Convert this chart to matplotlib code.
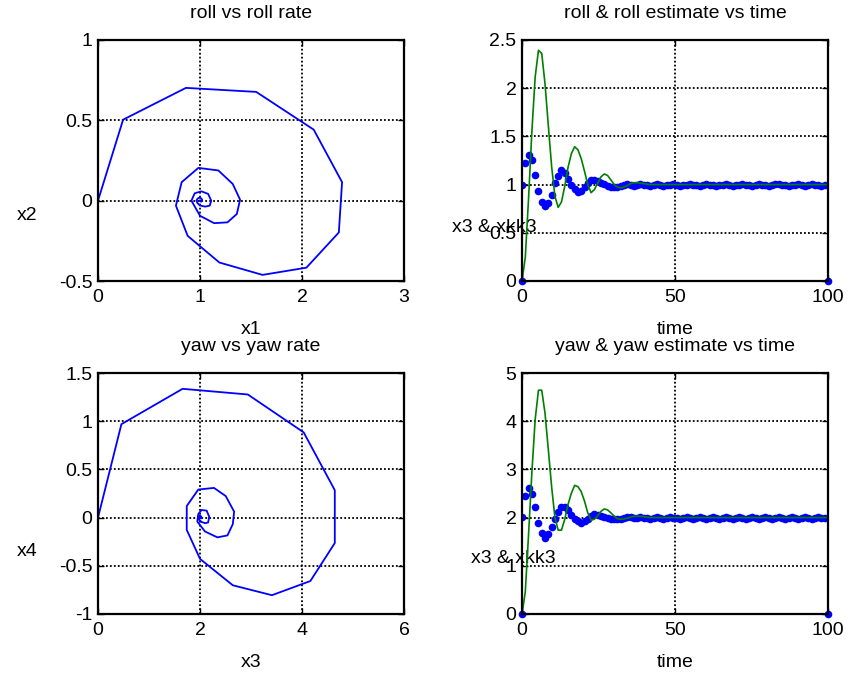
import numpy as np
import matplotlib
matplotlib.use("Agg")
import matplotlib.pyplot as plt

plt.rcParams['font.family'] = ['Liberation Sans', 'DejaVu Sans']
plt.rcParams['font.size'] = 14

# time axis, 94 samples from 0 to 100
time = np.linspace(0, 100, 94)

# roll state (x1) and roll rate (x2)
roll = [0.0, 0.246, 0.862, 1.551, 2.115, 2.393, 2.361, 2.043, 1.613, 1.190,
        0.879, 0.764, 0.820, 0.984, 1.180, 1.321, 1.393, 1.361, 1.269, 1.138,
        1.000, 0.916, 0.948, 1.014, 1.080, 1.110, 1.095, 1.050, 1.000, 0.975,
        0.965, 0.975, 0.990, 1.010, 1.020, 1.020, 1.015, 1.010, 1.005, 1.000,
        1.0, 1.0, 1.0, 1.0, 1.0, 1.0, 1.0, 1.0, 1.0, 1.0,
        1.0, 1.0, 1.0, 1.0, 1.0, 1.0, 1.0, 1.0, 1.0, 1.0,
        1.0, 1.0, 1.0, 1.0, 1.0, 1.0, 1.0, 1.0, 1.0, 1.0,
        1.0, 1.0, 1.0, 1.0, 1.0, 1.0, 1.0, 1.0, 1.0, 1.0,
        1.0, 1.0, 1.0, 1.0, 1.0, 1.0, 1.0, 1.0, 1.0, 1.0,
        1.0, 1.0, 1.0, 1.0]
roll_rate = [0.0, 0.504, 0.702, 0.677, 0.442, 0.115, -0.198, -0.417, -0.462, -0.385,
             -0.219, -0.031, 0.115, 0.204, 0.188, 0.104, 0.006, -0.083, -0.135, -0.140,
             -0.094, 0.000, 0.046, 0.058, 0.042, 0.000, -0.031, -0.037, -0.030, -0.015,
             0.000, 0.012, 0.018, 0.015, 0.008, 0.000, -0.005, -0.006, -0.005, -0.002,
             0.0, 0.0, 0.0, 0.0, 0.0, 0.0, 0.0, 0.0, 0.0, 0.0,
             0.0, 0.0, 0.0, 0.0, 0.0, 0.0, 0.0, 0.0, 0.0, 0.0,
             0.0, 0.0, 0.0, 0.0, 0.0, 0.0, 0.0, 0.0, 0.0, 0.0,
             0.0, 0.0, 0.0, 0.0, 0.0, 0.0, 0.0, 0.0, 0.0, 0.0,
             0.0, 0.0, 0.0, 0.0, 0.0, 0.0, 0.0, 0.0, 0.0, 0.0,
             0.0, 0.0, 0.0, 0.0]
roll_est = [1.00, 1.22, 1.31, 1.25, 1.10, 0.93, 0.82, 0.78, 0.81, 0.89,
            1.02, 1.09, 1.15, 1.12, 1.06, 1.00, 0.95, 0.92, 0.93, 0.97,
            1.02, 1.05, 1.05, 1.04, 1.02, 1.01, 0.99, 0.98, 0.98, 0.98,
            0.99, 1.00, 1.01, 1.00, 0.99, 1.00, 1.01, 1.00, 1.00, 0.99,
            1.00, 1.01, 1.00, 0.99, 1.00, 1.00, 1.01, 1.00, 0.99, 1.00,
            1.00, 1.01, 1.00, 1.00, 0.99, 1.00, 1.01, 1.00, 1.00, 0.99,
            1.00, 1.00, 1.01, 1.00, 0.99, 1.00, 1.00, 1.01, 1.00, 1.00,
            0.99, 1.00, 1.01, 1.00, 1.00, 0.99, 1.00, 1.01, 1.01, 1.00,
            1.00, 0.99, 1.00, 1.00, 1.01, 1.00, 0.99, 1.00, 1.01, 1.00,
            1.00, 0.99, 1.00, 1.00]

# yaw state (x3) and yaw rate (x4)
yaw = [0.0, 0.459, 1.659, 2.938, 4.033, 4.643, 4.643, 4.164, 3.410, 2.643,
       2.000, 1.740, 1.740, 1.967, 2.275, 2.505, 2.669, 2.643, 2.538, 2.341,
       2.098, 1.947, 1.967, 2.033, 2.130, 2.180, 2.160, 2.100, 2.030, 1.980,
       1.965, 1.970, 1.990, 2.010, 2.025, 2.030, 2.025, 2.020, 2.010, 2.000,
       2.0, 2.0, 2.0, 2.0, 2.0, 2.0, 2.0, 2.0, 2.0, 2.0,
       2.0, 2.0, 2.0, 2.0, 2.0, 2.0, 2.0, 2.0, 2.0, 2.0,
       2.0, 2.0, 2.0, 2.0, 2.0, 2.0, 2.0, 2.0, 2.0, 2.0,
       2.0, 2.0, 2.0, 2.0, 2.0, 2.0, 2.0, 2.0, 2.0, 2.0,
       2.0, 2.0, 2.0, 2.0, 2.0, 2.0, 2.0, 2.0, 2.0, 2.0,
       2.0, 2.0, 2.0, 2.0]
yaw_rate = [0.0, 0.969, 1.336, 1.277, 0.884, 0.284, -0.264, -0.658, -0.805, -0.702,
            -0.428, -0.127, 0.120, 0.291, 0.308, 0.223, 0.062, -0.068, -0.185, -0.205,
            -0.144, -0.041, 0.038, 0.079, 0.072, 0.010, -0.050, -0.058, -0.045, -0.020,
            0.000, 0.015, 0.020, 0.018, 0.010, 0.000, -0.006, -0.008, -0.006, -0.003,
            0.0, 0.0, 0.0, 0.0, 0.0, 0.0, 0.0, 0.0, 0.0, 0.0,
            0.0, 0.0, 0.0, 0.0, 0.0, 0.0, 0.0, 0.0, 0.0, 0.0,
            0.0, 0.0, 0.0, 0.0, 0.0, 0.0, 0.0, 0.0, 0.0, 0.0,
            0.0, 0.0, 0.0, 0.0, 0.0, 0.0, 0.0, 0.0, 0.0, 0.0,
            0.0, 0.0, 0.0, 0.0, 0.0, 0.0, 0.0, 0.0, 0.0, 0.0,
            0.0, 0.0, 0.0, 0.0]
yaw_est = [2.02, 2.45, 2.62, 2.50, 2.22, 1.88, 1.68, 1.58, 1.65, 1.80,
           1.97, 2.12, 2.23, 2.22, 2.15, 2.06, 1.98, 1.92, 1.88, 1.92,
           1.98, 2.04, 2.07, 2.06, 2.04, 2.02, 2.00, 1.98, 1.97, 1.97,
           1.98, 2.00, 2.02, 2.01, 1.99, 2.00, 2.02, 2.00, 1.99, 1.98,
           2.00, 2.01, 2.00, 1.98, 2.00, 2.01, 2.00, 1.99, 1.98, 2.00,
           2.01, 2.00, 1.98, 2.00, 2.01, 2.00, 1.98, 2.00, 2.01, 2.00,
           1.98, 1.99, 2.01, 2.00, 1.98, 2.00, 2.01, 2.00, 1.98, 2.00,
           2.01, 2.00, 1.98, 2.00, 2.01, 1.99, 1.98, 2.00, 2.01, 2.00,
           1.98, 2.00, 2.01, 2.00, 1.98, 2.00, 2.01, 1.99, 1.98, 2.00,
           2.01, 2.00, 1.99, 2.00]

# the two zero estimates at the ends of the run
end_t = [0, 100]
end_v = [0, 0]

fig = plt.figure(figsize=(8.51, 6.77), dpi=100)
W, H = 851.0, 677.0


def make_axes(left_px, top_px):
    return fig.add_axes([left_px / W, 1 - (top_px + 241) / H, 306 / W, 241 / H])


def style(ax, xlim, ylim, xticks, yticks, xticklabels, yticklabels):
    ax.set_xlim(xlim)
    ax.set_ylim(ylim)
    ax.set_xticks(xticks)
    ax.set_yticks(yticks)
    ax.set_xticklabels(xticklabels)
    ax.set_yticklabels(yticklabels)
    ax.grid(True, color='black', linestyle=(0, (1, 1.2)), linewidth=1.3)
    ax.tick_params(direction='in', length=4, width=1, top=True, right=True,
                   labelsize=14, colors='black')
    ax.tick_params(axis='x', pad=6)
    ax.tick_params(axis='y', pad=4)
    for s in ax.spines.values():
        s.set_linewidth(1.6)


def labels(ax, title, xlabel, ylabel, ylab_x, ylab_y):
    ax.set_title(title, fontsize=14, pad=16)
    ax.set_xlabel(xlabel, fontsize=14, va='center')
    ax.xaxis.set_label_coords(0.5, -0.2)
    ax.set_ylabel(ylabel, fontsize=14, rotation=0, va='center', ha='center')
    ax.yaxis.set_label_coords(ylab_x, ylab_y)


ax1 = make_axes(98, 40)
ax1.plot(roll, roll_rate, color='blue', linewidth=1.3)
style(ax1, (0, 3), (-0.5, 1), [0, 1, 2, 3], [-0.5, 0, 0.5, 1],
      ['0', '1', '2', '3'], ['-0.5', '0', '0.5', '1'])
labels(ax1, 'roll vs roll rate', 'x1', 'x2', -0.232, 0.27)

ax2 = make_axes(522, 40)
ax2.plot(time, roll_est, linestyle='none', marker='o', markersize=5.5,
         markeredgewidth=0, color='blue')
ax2.plot(end_t, end_v, linestyle='none', marker='o', markersize=5.5,
         markeredgewidth=0, color='blue', clip_on=False)
ax2.plot(time, roll, color='#008000', linewidth=1.2)
style(ax2, (0, 100), (0, 2.5), [0, 50, 100], [0, 0.5, 1, 1.5, 2, 2.5],
      ['0', '50', '100'], ['0', '0.5', '1', '1.5', '2', '2.5'])
labels(ax2, 'roll & roll estimate vs time', 'time', 'x3 & xkk3', -0.092, 0.22)

ax3 = make_axes(98, 373)
ax3.plot(yaw, yaw_rate, color='blue', linewidth=1.3)
style(ax3, (0, 6), (-1, 1.5), [0, 2, 4, 6], [-1, -0.5, 0, 0.5, 1, 1.5],
      ['0', '2', '4', '6'], ['-1', '-0.5', '0', '0.5', '1', '1.5'])
labels(ax3, 'yaw vs yaw rate', 'x3', 'x4', -0.232, 0.26)

ax4 = make_axes(522, 373)
ax4.plot(time, yaw_est, linestyle='none', marker='o', markersize=5.5,
         markeredgewidth=0, color='blue')
ax4.plot(end_t, end_v, linestyle='none', marker='o', markersize=5.5,
         markeredgewidth=0, color='blue', clip_on=False)
ax4.plot(time, yaw, color='#008000', linewidth=1.2)
style(ax4, (0, 100), (0, 5), [0, 50, 100], [0, 1, 2, 3, 4, 5],
      ['0', '50', '100'], ['0', '1', '2', '3', '4', '5'])
labels(ax4, 'yaw & yaw estimate vs time', 'time', 'x3 & xkk3', -0.027, 0.232)

fig.savefig('out.png', dpi=100)
